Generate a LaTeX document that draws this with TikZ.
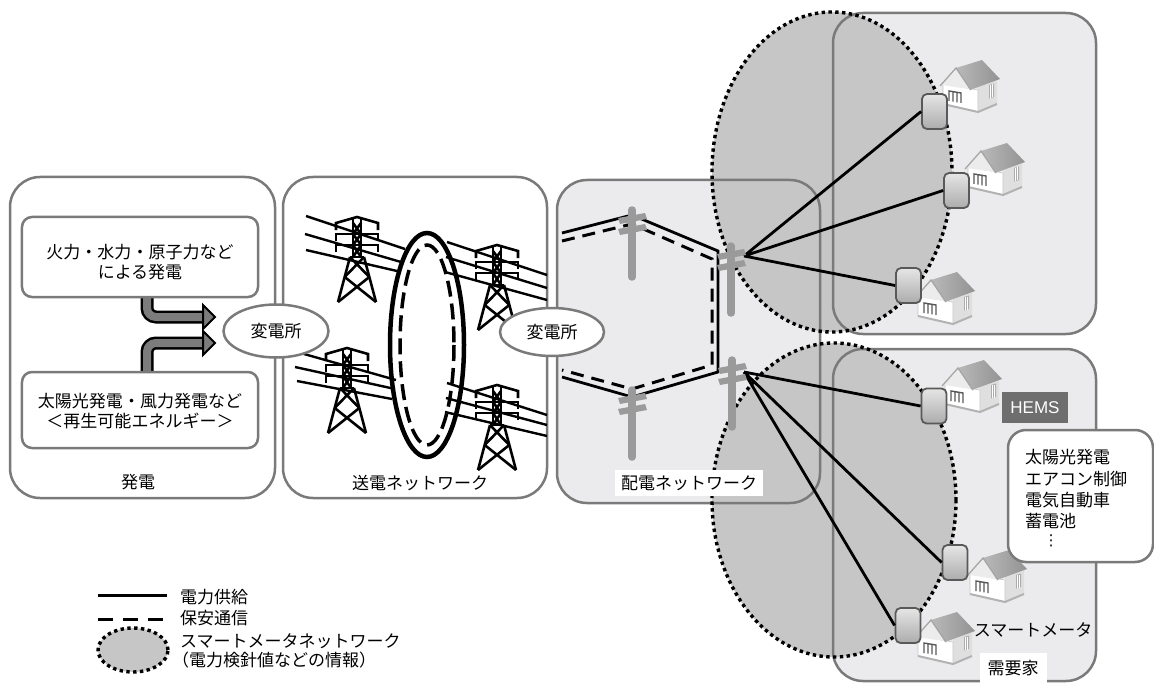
\documentclass[tikz,border=0pt]{standalone}
\usepackage{fontspec}
\newfontfamily\jp{Noto Sans CJK JP}
\newfontfamily\lat{Liberation Sans}
\newfontfamily\dv{DejaVu Sans}
\usetikzlibrary{shapes.geometric}

\definecolor{boxline}{HTML}{7A7A7A}
\definecolor{zone}{HTML}{EBEBED}
\definecolor{meshfill}{HTML}{C6C6C6}
\definecolor{polegray}{HTML}{9A9A9A}
\definecolor{arrowgray}{HTML}{7C7C7C}
\definecolor{hemsgray}{HTML}{6E6E6E}

\tikzset{
  % lattice transmission tower, apex at the origin
  pylon/.pic={
    \begin{scope}[line width=2.6bp, line cap=butt, line join=miter]
      \draw (-4,2) -- (-4,40) (4,2) -- (4,40);
      \draw (-21,13) -- (-21,6) -- (0,0) -- (21,6) -- (21,13);
      \draw (-21,24) -- (-21,17) -- (21,17) -- (21,24);
      \draw (-21,35) -- (-21,28) -- (21,28) -- (21,35);
      \draw (-4,6) -- (4,17) -- (-4,28) -- (4,40);
      \draw (4,6) -- (-4,17) -- (4,28) -- (-4,40);
      \draw (-7,40) -- (7,40);
      \draw (-7,40) -- (-19,85) (7,40) -- (19,85);
      \draw (-7,40) -- (12.3,60) (7,40) -- (-12.3,60);
      \draw (-12.3,60) -- (19,85) (12.3,60) -- (-19,85);
    \end{scope}
  },
  % distribution pole, top of the post at the origin
  utilitypole/.pic={
    \draw[polegray, line width=7.5bp, line cap=round] (0,3) -- (0,70);
    \fill[polegray] (-14,11) -- (13,6) -- (15,12) -- (-12,17) -- cycle;
    \fill[polegray] (-14,22) -- (13,17) -- (15,23) -- (-12,28) -- cycle;
  },
  % small detached house, top-left corner at the origin
  house/.pic={
    \fill[gray!25] (38,26) -- (57,20) -- (57,44) -- (38,52) -- cycle;
    \fill[gray!65] (49,25) -- (54,23.5) -- (54,37) -- (49,38.5) -- cycle;
    \draw[white, line width=0.7bp] (50.7,25) -- (50.7,38) (52.3,24.5) -- (52.3,37.5);
    \fill[white] (3,24) -- (38,30) -- (38,52) -- (3,44) -- cycle;
    \draw[gray!45, line width=0.6bp] (3,24) -- (38,30) -- (38,52) -- (3,44) -- cycle;
    \draw[gray!70!black, line width=1.4bp] (9,41) -- (9,31) -- (21,33) -- (21,43)
          (13,31.7) -- (13,41.7) (17,32.4) -- (17,42.4);
    \shade[left color=gray!55, right color=gray!85] (16,8) -- (42,0) -- (60,19) -- (30,30) -- cycle;
    \fill[gray!15] (2,25) -- (16,9) -- (29,29) -- cycle;
    \draw[gray!70, line width=1.3bp] (0,26) -- (16,8) -- (31,30);
    \draw[gray!60, line width=2bp] (3,44) -- (38,52) -- (57,44);
  },
  area/.style={draw=boxline, line width=2.5bp, rounded corners=30bp},
  subbox/.style={draw=boxline, line width=2.5bp, rounded corners=10bp, fill=white,
                 minimum width=236bp},
  substation/.style={ellipse, draw=boxline, fill=white, line width=2.5bp, inner sep=0pt},
  meshborder/.style={draw=black, line width=3.4bp, dash pattern=on 3.4bp off 3.4bp},
  supply/.style={draw=black, line width=2.8bp},
  safety/.style={draw=black, line width=3bp, dash pattern=on 13bp off 8bp},
  meter/.style={rectangle, rounded corners=5bp, minimum width=25bp, minimum height=35bp,
                inner sep=0pt, draw=black!65, line width=1.8bp,
                top color=gray!20, bottom color=gray!65},
  label/.style={inner sep=0pt},
  tag/.style={fill=white, inner xsep=6bp, inner ysep=5bp},
  bigarrow/.style={line width=13bp, rounded corners=9bp},
}

\begin{document}
\begin{tikzpicture}[x=1bp, y=-1bp, font=\jp\fontsize{17bp}{20bp}\selectfont]
\useasboundingbox (0,0) rectangle (1154,684);
\fill[white] (0,0) rectangle (1154,684);

% area backgrounds
\fill[white, rounded corners=30bp] (10,177) rectangle (275,498);
\fill[white, rounded corners=30bp] (283,177) rectangle (547,498);
\fill[zone, rounded corners=30bp] (557,180) rectangle (820,503);
\fill[zone, rounded corners=30bp] (833,13) rectangle (1096,334);
\fill[zone, rounded corners=30bp] (833,349) rectangle (1096,681);

% smart meter network areas
\fill[meshfill] (832,172) ellipse [x radius=120, y radius=160];
\fill[meshfill] (834,500) ellipse [x radius=122, y radius=157];

% area outlines
\draw[area] (10,177) rectangle (275,498);
\draw[area] (283,177) rectangle (547,498);
\draw[area] (557,180) rectangle (820,503);
\draw[area] (833,13) rectangle (1096,334);
\draw[area] (833,349) rectangle (1096,681);

\draw[meshborder] (832,172) ellipse [x radius=120, y radius=160];
\draw[meshborder] (834,500) ellipse [x radius=122, y radius=157];

% generation: feed arrows into the substation
\draw[bigarrow, black] (147,285) -- (147,317) -- (205,317);
\draw[bigarrow, arrowgray, line width=8bp] (147,285) -- (147,317) -- (206,317);
\filldraw[fill=arrowgray, draw=black, line width=2bp, line join=miter] (203,305) -- (215,317) -- (203,329) -- cycle;
\draw[bigarrow, black] (147,385) -- (147,343) -- (205,343);
\draw[bigarrow, arrowgray, line width=8bp] (147,385) -- (147,343) -- (206,343);
\filldraw[fill=arrowgray, draw=black, line width=2bp, line join=miter] (203,331) -- (215,343) -- (203,355) -- cycle;

\node[subbox, minimum height=80bp] (fossil) at (140,257) {};
\node[label, align=center] (fossiltext) at (140,262) {火力・水力・原子力など\\による発電};
\node[subbox, minimum height=76bp] (renew) at (140,410) {};
\node[label, align=center] (renewtext) at (140,411.5) {太陽光発電・風力発電など\\＜再生可能エネルギー＞};
\node[label] (genlabel) at (138,482) {発電};

% transmission network
\pic at (357,217) {pylon};
\pic at (497,245) {pylon};
\pic at (347,348) {pylon};
\pic at (497,385) {pylon};
\begin{scope}[line width=2.4bp]
  \draw (306,216) -- (405,249) (305,234) -- (401,262) (306,250) -- (397,271);
  \draw (447,242) -- (547,275) (446,257) -- (547,288) (445,272) -- (547,300);
  \draw (297,352) -- (396,380) (295,367) -- (395,389) (297,381) -- (392,399);
  \draw (447,383) -- (547,415) (446,398) -- (547,425) (445,412) -- (547,436);
\end{scope}
\draw[line width=4.5bp] (427,345) ellipse [x radius=37, y radius=112];
\draw[line width=3.5bp, dash pattern=on 16bp off 7bp] (427,345) ellipse [x radius=27, y radius=100];
\node[label] (txlabel) at (420,483) {送電ネットワーク};

\node[substation, minimum width=105bp, minimum height=53bp] (s1) at (276,331) {変電所};
\node[substation, minimum width=104bp, minimum height=48bp] (s2) at (552,332) {変電所};

% distribution network
\coordinate (inT) at (562,233);  \coordinate (inTd) at (562,241);
\coordinate (pa) at (632,215);   \coordinate (pad) at (632,224);
\coordinate (pb) at (718,251);   \coordinate (pbd) at (712,259);
\coordinate (pd) at (718,372);   \coordinate (pdd) at (712,365);
\coordinate (pc) at (632,397);   \coordinate (pcd) at (632,389);
\coordinate (inB) at (562,377);  \coordinate (inBd) at (562,370);
\draw[supply] (inT) -- (pa) -- (pb) -- (pd) -- (pc) -- (inB);
\draw[safety] (inTd) -- (pad) -- (pbd) -- (pdd) -- (pcd) -- (inBd);

\coordinate (hubB) at (744,256);
\coordinate (hubD) at (744,372);

% houses and smart meters
\pic at (940,60) {house};
\pic at (965,143) {house};
\pic at (915,272) {house};
\pic at (942,360) {house};
\pic at (967,550) {house};
\pic at (915,612) {house};
\node[meter] (m1) at (934.5,111.5) {};
\node[meter] (m2) at (956.5,190.5) {};
\node[meter] (m3) at (908.5,285.5) {};
\node[meter] (m4) at (934,406) {};
\node[meter] (m5) at (955,562.5) {};
\node[meter] (m6) at (908,625.5) {};

\draw[supply] (hubB) -- (m1.west) (hubB) -- (m2.west) (hubB) -- (m3.west);
\draw[supply] (hubD) -- (m4.west) (hubD) -- (m5.west) (hubD) -- (m6.west);

\pic at (632,207) {utilitypole};
\pic at (731,243) {utilitypole};
\pic at (632,387) {utilitypole};
\pic at (732,357) {utilitypole};

\node[label, tag] (dxlabel) at (689,483) {配電ネットワーク};

% home energy management
\node[fill=hemsgray, text=white, font=\lat\fontsize{17bp}{20bp}\selectfont,
      minimum width=66bp, minimum height=31bp, inner sep=0pt] (hems) at (1035,407.5) {HEMS};
\node[draw=boxline, fill=white, line width=2.5bp, rounded corners=18bp,
      minimum width=145bp, minimum height=132bp, inner sep=0pt] (hemsbox) at (1080.5,496) {};
\node[label, anchor=west] (h1) at (1025,457) {太陽光発電};
\node[label, anchor=west] (h2) at (1025,479) {エアコン制御};
\node[label, anchor=west] (h3) at (1025,500) {電気自動車};
\node[label, anchor=west] (h4) at (1025,521) {蓄電池};
\node[label, font=\dv\fontsize{15bp}{18bp}\selectfont] (h5) at (1051,541) {⋮};

\node[label] (smlabel) at (1033,630) {スマートメータ};
\node[fill=white, minimum width=67bp, minimum height=30bp, inner sep=0pt] (demand) at (1013,668) {需要家};

% legend
\coordinate (lgA) at (98,595);  \coordinate (lgB) at (167,595);
\coordinate (lgC) at (98,619);  \coordinate (lgD) at (167,619);
\draw[line width=3bp] (lgA) -- (lgB);
\draw[line width=3bp, dash pattern=on 15bp off 10bp] (lgC) -- (lgD);
\node[ellipse, fill=meshfill, meshborder, minimum width=70bp, minimum height=44bp] (lgmesh) at (133,650) {};
\node[label, anchor=west] (lg1) at (180,597) {電力供給};
\node[label, anchor=west] (lg2) at (180,618) {保安通信};
\node[label, anchor=west] (lg3) at (180,641) {スマートメータネットワーク};
\node[label, anchor=west] (lg4) at (172,660) {（電力検針値などの情報）};
\end{tikzpicture}
\end{document}
